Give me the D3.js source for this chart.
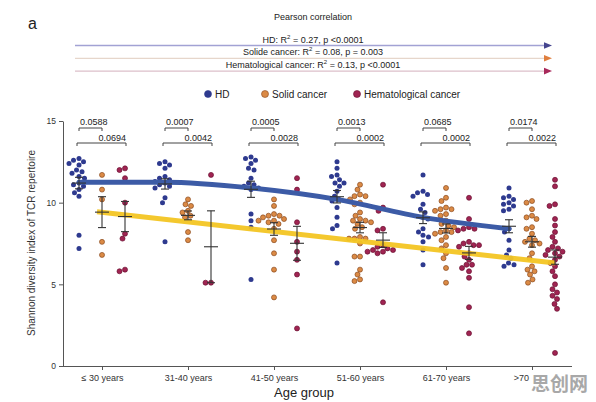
<!DOCTYPE html>
<html>
<head>
<meta charset="utf-8">
<script src="https://cdn.jsdelivr.net/npm/d3@7"></script>
<style>
	body { margin: 0; background: #fff; }
	svg { font-family: "Liberation Sans", Arial, sans-serif; }
	.axis path, .axis line { stroke: #555; stroke-width: 1; }
	.axis text { fill: #333; }
</style>
</head>
<body>
<svg></svg>
<script>
// categories
const groups = ["≤ 30 years", "31-40 years", "41-50 years", "51-60 years", "61-70 years", ">70"]
const series = ["HD", "Solid cancer", "Hematological cancer"]
const seriesColor = ["#2e3a8f", "#db8a45", "#a02452"]
const seriesStroke = ["#2e3a8f", "#8a4a20", "#6a1030"]

// Shannon index per age group
const hdValues = [
	[12.7, 12.6, 12.5, 12.4, 12.3, 12.0, 11.9, 11.8, 11.6, 11.5, 11.2, 11.1, 11.0, 10.8, 10.6, 10.4, 8.0, 7.2],
	[12.5, 12.4, 12.3, 12.1, 11.6, 11.5, 11.4, 11.3, 11.2, 11.1, 11.0, 10.9, 10.3, 10.0, 7.6],
	[12.8, 12.7, 12.6, 12.4, 12.1, 12.0, 11.5, 11.2, 11.1, 11.0, 10.9, 10.8, 9.3, 8.9, 8.5, 5.3],
	[12.5, 12.1, 11.7, 11.6, 11.4, 11.2, 11.2, 11.0, 10.7, 10.4, 10.2, 10.1, 9.7, 9.1, 8.6, 8.4, 6.3],
	[11.7, 10.7, 10.6, 10.5, 10.4, 9.9, 9.6, 9.4, 9.1, 9.0, 8.4, 8.2, 8.0, 7.9, 7.6, 7.1, 6.2],
	[10.9, 10.4, 10.3, 10.2, 10.0, 9.9, 9.8, 9.6, 9.5, 8.4, 8.2, 7.7, 7.1, 6.8, 6.6, 6.3, 6.2, 6.1]
]
const solidValues = [
	[11.7, 10.8, 10.2, 7.6, 6.8],
	[10.2, 9.9, 9.8, 9.5, 9.4, 9.2, 9.1, 8.2, 7.7],
	[10.2, 9.8, 9.3, 9.2, 9.2, 9.1, 9.0, 8.9, 8.9, 8.8, 8.7, 8.4, 7.7, 6.9, 5.9, 4.2],
	[11.1, 10.8, 10.5, 10.4, 10.4, 10.2, 10.0, 9.9, 9.4, 9.2, 9.0, 8.9, 8.9, 8.8, 8.7, 8.5, 8.4, 7.9, 7.8, 7.8, 7.8, 7.5, 6.7, 6.7, 5.9, 5.6, 5.3, 5.2],
	[10.9, 10.3, 10.1, 9.7, 9.6, 9.6, 9.5, 9.3, 9.2, 8.9, 8.7, 8.6, 8.5, 8.3, 8.2, 8.2, 8.1, 7.9, 7.7, 7.4, 7.2, 6.9, 6.6, 6.0, 5.1],
	[10.1, 10.0, 9.6, 9.2, 9.1, 9.0, 8.5, 8.4, 8.1, 7.8, 7.7, 7.6, 7.5, 7.4, 6.9, 6.6, 6.1, 5.9, 5.8, 5.6, 5.3, 5.1]
]
const hemeValues = [
	[12.1, 12.0, 11.5, 10.0, 8.1, 7.8, 5.9, 5.8],
	[11.7, 5.1, 5.1],
	[11.5, 10.8, 8.8, 7.6, 7.0, 6.5, 5.6, 2.3],
	[11.1, 9.7, 9.5, 8.4, 8.3, 7.4, 7.3, 7.2, 7.1, 7.1, 7.0, 7.0, 6.9, 3.9],
	[10.3, 9.0, 8.5, 8.4, 8.4, 8.3, 7.6, 7.5, 7.4, 7.4, 7.3, 6.9, 6.7, 6.5, 6.2, 6.2, 6.0, 5.8, 5.4, 3.6, 2.0],
	[11.4, 11.0, 9.9, 9.8, 9.0, 8.6, 8.2, 7.9, 7.6, 7.3, 7.2, 7.1, 7.0, 6.9, 6.8, 6.7, 6.5, 6.3, 6.1, 5.8, 5.5, 5.0, 4.7, 4.5, 4.3, 4.1, 3.8, 3.5, 0.8]
]

// pairwise p values (HD vs solid, HD vs hematological)
const pSolid = ["0.0588", "0.0007", "0.0005", "0.0013", "0.0685", "0.0174"]
const pHeme = ["0.0694", "0.0042", "0.0028", "0.0002", "0.0002", "0.0022"]

// trend lines
const hdTrend = [11.25, 11.25, 10.9, 10.2, 9.1, 8.4]
const cancerTrend = [9.45, 6.3] // from solid ≤30 to hematological >70

// correlation header
const corrLabels = [
	["HD: R", " = 0.27,  p <0.0001"],
	["Solide cancer: R", " = 0.08,  p = 0.003"],
	["Hematological cancer: R", " = 0.13, p <0.0001"]
]
const corrLine = ["#a2a2d4", "#e6d6cb", "#dcbfca"]
const corrHead = ["#45458f", "#e07f3f", "#a8285a"]

const yTicks = [0, 5, 10, 15]

const svg = d3.select("svg").attr("width", 596).attr("height", 402)

const yScale = d3.scaleLinear().domain([0, 15]).range([366, 121])
const xScale = d3.scalePoint().domain(groups).range([102, 532])
const subScale = d3.scalePoint().domain(series).range([-23, 23])

const r = 2.5

// simple beeswarm: push each dot sideways until it no longer overlaps
const swarm = (values, cx) => {
	const placed = []
	values
		.slice()
		.sort((a, b) => b - a)
		.forEach((v) => {
			const cy = yScale(v)
			let dx = 0
			for (let k = 0; k < 200; k++) {
				const off = (k % 2 === 0 ? 1 : -1) * Math.ceil(k / 2) * 0.5
				const ok = placed.every((p) => {
					return (p.x - (cx + off)) ** 2 + (p.y - cy) ** 2 >= (2 * r + 0.3) ** 2
				})
				if (ok) {
					dx = off
					break
				}
			}
			placed.push({ x: cx + dx, y: cy, v: v })
		})
	return placed
}

const allSeries = [hdValues, solidValues, hemeValues]

// header
svg.append("text").attr("x", 28).attr("y", 29).style("font-size", "16px").style("fill", "#222").text("a")

svg.append("text")
	.attr("x", 313)
	.attr("y", 20)
	.attr("text-anchor", "middle")
	.style("font-size", "9px")
	.style("fill", "#222")
	.text("Pearson correlation")

const corr = svg
	.selectAll("g.corr")
	.data(corrLabels)
	.enter()
	.append("g")
	.attr("class", "corr")
	.attr("transform", (d, i) => {
		return `translate(0, ${45.5 + i * 12.8})`
	})

corr.append("line")
	.attr("x1", 75)
	.attr("x2", 546)
	.attr("y1", 0)
	.attr("y2", 0)
	.style("stroke", (d, i) => corrLine[i])
	.style("stroke-width", 1.3)

corr.append("path")
	.attr("d", "M544,-3.3 L552,0 L544,3.3 Z")
	.style("fill", (d, i) => corrHead[i])

const corrText = corr
	.append("text")
	.attr("x", 313)
	.attr("y", -3)
	.attr("text-anchor", "middle")
	.style("font-size", "9px")
	.style("fill", "#222")

corrText.append("tspan").text((d) => d[0])
corrText.append("tspan").attr("dy", -4).style("font-size", "6px").text("2")
corrText.append("tspan").attr("dy", 4).text((d) => d[1])

// legend
const legend = svg
	.selectAll("g.legend")
	.data(series)
	.enter()
	.append("g")
	.attr("class", "legend")
	.attr("transform", (d, i) => {
		return `translate(${[208, 265, 357][i]}, 94)`
	})

legend.append("circle")
	.attr("r", 3.5)
	.style("fill", (d, i) => seriesColor[i])
	.style("stroke", (d, i) => seriesStroke[i])
	.style("stroke-width", 0.6)

legend.append("text")
	.attr("x", 7)
	.attr("y", 3.5)
	.style("font-size", "10px")
	.style("fill", "#222")
	.text((d) => d)

// axes
svg.append("g")
	.attr("class", "axis")
	.attr("transform", "translate(63, 0)")
	.call(d3.axisLeft(yScale).tickValues(yTicks).tickSize(4).tickSizeOuter(0))
	.call((g) => g.selectAll("text").style("font-size", "8.5px"))

svg.append("g")
	.attr("class", "axis")
	.attr("transform", "translate(0, 366)")
	.call(d3.axisBottom(xScale).tickSize(4).tickSizeOuter(0))
	.call((g) => g.select(".domain").attr("d", "M63,0.5H572"))
	.call((g) => g.selectAll("text").style("font-size", "9px").attr("dy", "0.9em"))
	.call((g) => g.selectAll(".tick:last-of-type text").attr("dx", -11))

svg.append("text")
	.attr("transform", "translate(35, 243) rotate(-90)")
	.attr("text-anchor", "middle")
	.style("font-size", "10px")
	.style("fill", "#333")
	.text("Shannon diversity index of TCR repertoire")

svg.append("text")
	.attr("x", 304)
	.attr("y", 397)
	.attr("text-anchor", "middle")
	.style("font-size", "13px")
	.style("fill", "#222")
	.text("Age group")

// dots
allSeries.forEach((vals, s) => {
	vals.forEach((groupVals, g) => {
		const cx = xScale(groups[g]) + subScale(series[s])
		svg.append("g")
			.selectAll("circle")
			.data(swarm(groupVals, cx))
			.enter()
			.append("circle")
			.attr("cx", (d) => d.x)
			.attr("cy", (d) => d.y)
			.attr("r", r)
			.style("fill", seriesColor[s])
			.style("stroke", seriesStroke[s])
			.style("stroke-width", s === 0 ? 0 : 0.7)
	})
})

// trend lines
const hdLine = d3
	.line()
	.x((d, i) => xScale(groups[i]) + subScale("HD"))
	.y((d) => yScale(d))
	.curve(d3.curveMonotoneX)

svg.append("path")
	.datum(hdTrend)
	.attr("d", hdLine)
	.style("fill", "none")
	.style("stroke", "#3c5ba6")
	.style("stroke-width", 5)
	.style("stroke-linecap", "round")

svg.append("line")
	.attr("x1", xScale(groups[0]) + subScale("Solid cancer") - 5)
	.attr("y1", yScale(cancerTrend[0]))
	.attr("x2", xScale(groups[5]) + subScale("Hematological cancer"))
	.attr("y2", yScale(cancerTrend[1]))
	.style("stroke", "#f4c623")
	.style("stroke-width", 5)
	.style("opacity", 0.95)

// mean ± SEM
allSeries.forEach((vals, s) => {
	vals.forEach((groupVals, g) => {
		const cx = xScale(groups[g]) + subScale(series[s])
		const m = d3.mean(groupVals)
		const sem = d3.deviation(groupVals) / Math.sqrt(groupVals.length)
		const bar = svg.append("g").style("stroke", "#333").style("stroke-width", 1.1)
		bar.append("line").attr("x1", cx).attr("x2", cx).attr("y1", yScale(m - sem)).attr("y2", yScale(m + sem))
		bar.append("line").attr("x1", cx - 7).attr("x2", cx + 7).attr("y1", yScale(m)).attr("y2", yScale(m))
		bar.append("line").attr("x1", cx - 4).attr("x2", cx + 4).attr("y1", yScale(m + sem)).attr("y2", yScale(m + sem))
		bar.append("line").attr("x1", cx - 4).attr("x2", cx + 4).attr("y1", yScale(m - sem)).attr("y2", yScale(m - sem))
	})
})

// significance brackets
const brackets = svg
	.selectAll("g.bracket")
	.data(groups)
	.enter()
	.append("g")
	.attr("class", "bracket")
	.style("font-size", "9px")

brackets
	.append("path")
	.attr("d", (d) => {
		const a = xScale(d) + subScale("HD")
		const b = xScale(d) + subScale("Solid cancer")
		return `M${a},131V128H${b}V131`
	})
	.style("fill", "none")
	.style("stroke", "#444")

brackets
	.append("text")
	.attr("x", (d) => xScale(d) + subScale("HD") + 1)
	.attr("y", 125)
	.style("fill", "#222")
	.text((d, i) => pSolid[i])

brackets
	.append("path")
	.attr("d", (d) => {
		const a = xScale(d) + subScale("HD") - 2
		const b = xScale(d) + subScale("Hematological cancer") + 1
		return `M${a},146V143H${b}V146`
	})
	.style("fill", "none")
	.style("stroke", "#444")

brackets
	.append("text")
	.attr("x", (d) => xScale(d) + subScale("Hematological cancer") + 1)
	.attr("y", 141)
	.attr("text-anchor", "end")
	.style("fill", "#222")
	.text((d, i) => pHeme[i])

// watermark
svg.append("text")
	.attr("x", 531)
	.attr("y", 391)
	.style("font-family", "Noto Sans CJK SC")
	.style("font-size", "19px")
	.style("font-weight", "bold")
	.style("fill", "#9a9a9a")
	.style("opacity", 0.85)
	.text("思创网")
</script>
</body>
</html>
